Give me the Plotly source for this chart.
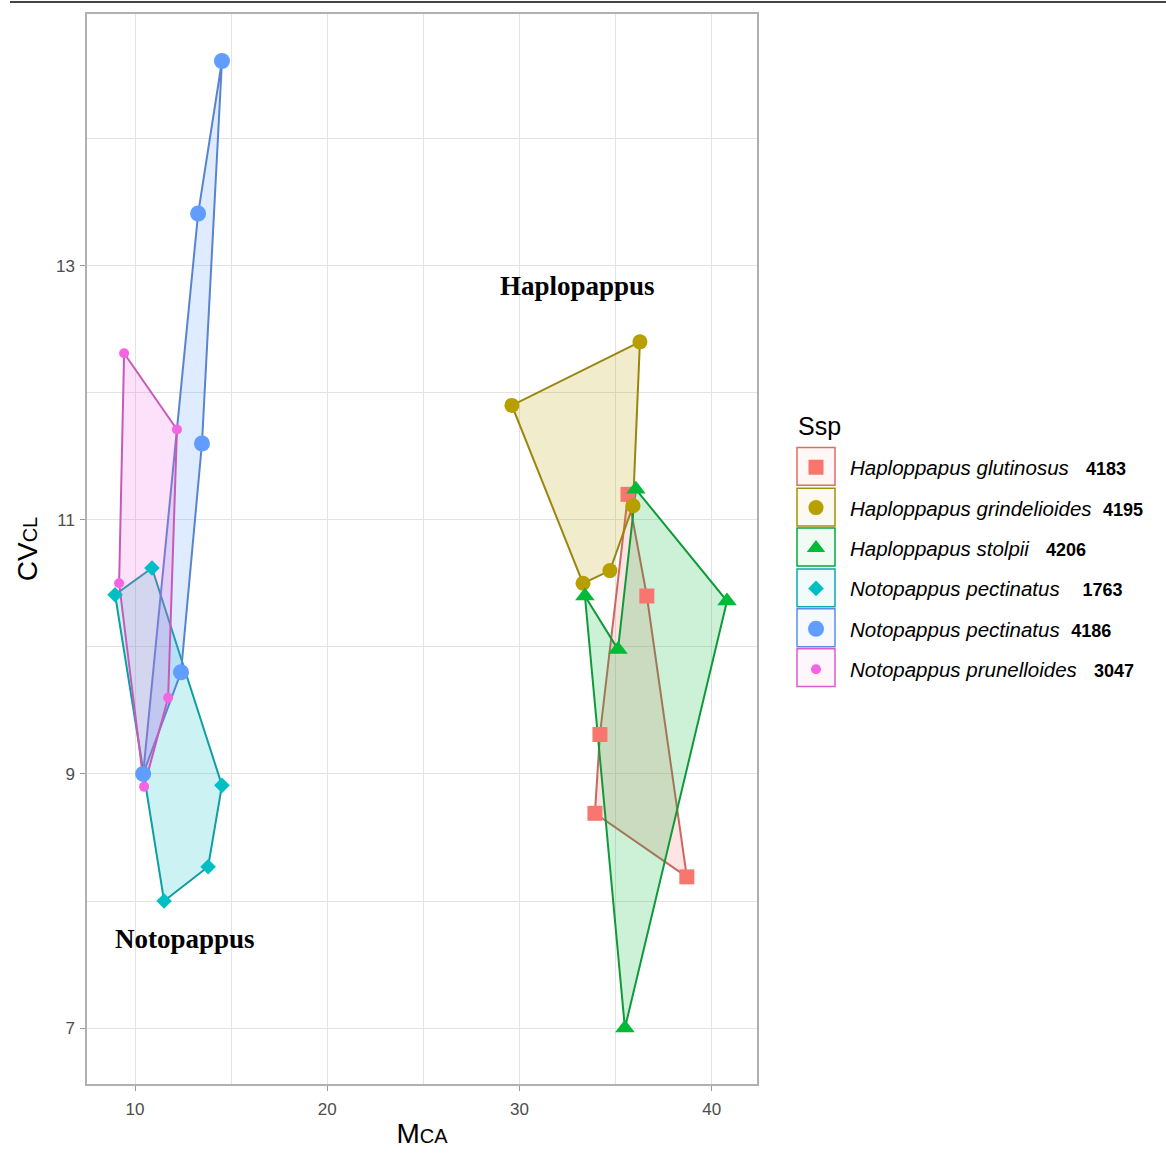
import plotly.graph_objects as go

# ---- data ----
species = [
    "Haploppapus glutinosus", "Haploppapus grindelioides", "Haploppapus stolpii",
    "Notopappus pectinatus", "Notopappus pectinatus", "Notopappus prunelloides",
]
codes = ["4183", "4195", "4206", "1763", "4186", "3047"]
gaps = ["   ", "  ", "   ", "    ", "  ", "   "]

glut_x = [35.64, 36.62, 38.70, 33.92, 34.18]
glut_y = [11.20, 10.40, 8.19, 8.69, 9.31]

grin_x = [36.26, 35.90, 34.70, 33.30, 29.60]
grin_y = [12.40, 11.11, 10.60, 10.50, 11.90]

stol_x = [36.05, 40.79, 35.48, 33.40, 35.12]
stol_y = [11.24, 10.36, 7.00, 10.40, 9.98]

pect1763_x = [10.88, 14.52, 13.80, 11.51, 8.96]
pect1763_y = [10.62, 8.91, 8.27, 8.00, 10.41]

pect4186_x = [14.52, 13.48, 12.39, 10.42, 13.28]
pect4186_y = [14.61, 11.60, 9.80, 9.00, 13.41]

prun_x = [9.43, 12.18, 11.72, 10.47, 9.17]
prun_y = [12.31, 11.71, 9.60, 8.90, 10.50]

xs = [glut_x, grin_x, stol_x, pect1763_x, pect4186_x, prun_x]
ys = [glut_y, grin_y, stol_y, pect1763_y, pect4186_y, prun_y]

colors = ["#F8766D", "#B79F00", "#00BA38", "#00BFC4", "#619CFF", "#F564E3"]
symbols = ["square", "circle", "triangle-up", "diamond", "circle", "circle"]
sizes = [15, 15, 17, 12, 16, 10]

x_ticks = [10, 20, 30, 40]
y_ticks = [7, 9, 11, 13]
labels = [("Haplopappus", 33.0, 12.84), ("Notopappus", 12.6, 7.70)]


def rgba(hexc, a):
    h = hexc.lstrip("#")
    return "rgba(%d,%d,%d,%s)" % (int(h[0:2], 16), int(h[2:4], 16), int(h[4:6], 16), a)


def darker(hexc, k=0.25, g=60):
    h = hexc.lstrip("#")
    c = [int(h[j:j + 2], 16) for j in (0, 2, 4)]
    c = [round((1 - k) * v + k * g) for v in c]
    return "rgb(%d,%d,%d)" % tuple(c)


fig = go.Figure()

# polygons (hulls)
for i in range(6):
    fig.add_trace(go.Scatter(
        x=xs[i] + [xs[i][0]], y=ys[i] + [ys[i][0]],
        mode="lines", fill="toself",
        fillcolor=rgba(colors[i], 0.2),
        line=dict(color=darker(colors[i]), width=2),
        showlegend=False, hoverinfo="skip",
    ))

# points
for i in range(6):
    name = ("<i>%s</i>%s<span style='font-size:18px'><b>%s</b></span>"
            % (species[i], gaps[i], codes[i]))
    fig.add_trace(go.Scatter(
        x=xs[i], y=ys[i], mode="markers", name=name,
        legendgroup="g%d" % i,
        marker=dict(color=colors[i], symbol=symbols[i], size=sizes[i]),
    ))

for txt, lx, ly in labels:
    fig.add_annotation(x=lx, y=ly, text="<b>%s</b>" % txt, showarrow=False,
                       font=dict(family="Liberation Serif", size=27, color="black"))

W, H = 1166, 1156
L, R, T, B = 87, 757, 14, 1088
pw, ph = R - L, B - T

# legend title
fig.add_annotation(xref="paper", yref="paper", x=(796 - L) / pw, y=(B - 428) / ph,
                   xanchor="left", yanchor="middle", text="Ssp", showarrow=False,
                   font=dict(family="Liberation Sans", size=25, color="black"))

# legend key boxes
key_centers = [468, 509, 549, 590, 630, 670]
for i, cy in enumerate(key_centers):
    x0 = (797 - L) / pw
    x1 = (835 - L) / pw
    y0 = (B - (cy + 19)) / ph
    y1 = (B - (cy - 19)) / ph
    fig.add_shape(type="rect", xref="paper", yref="paper", x0=x0, x1=x1, y0=y0, y1=y1,
                  line=dict(color=darker(colors[i], 0.15), width=1.5),
                  fillcolor=rgba(colors[i], 0.06), layer="below")

# top dark line (artifact in reference)
fig.add_shape(type="line", xref="paper", yref="paper",
              x0=(10 - L) / pw, x1=(W - L) / pw,
              y0=(B - 2) / ph, y1=(B - 2) / ph,
              line=dict(color="#444444", width=2))

grid = "#e3e3e3"
fig.update_layout(
    width=W, height=H,
    margin=dict(l=L, r=W - R, t=T, b=H - B),
    plot_bgcolor="white", paper_bgcolor="white",
    font=dict(family="Liberation Sans", color="#4d4d4d"),
    showlegend=True,
    legend=dict(
        x=(782 - L) / pw, xanchor="left", y=(B - 449) / ph, yanchor="top",
        font=dict(size=20.5, color="black"),
        tracegroupgap=10.75, traceorder="grouped",
        itemsizing="trace", itemwidth=58,
        bgcolor="rgba(0,0,0,0)",
    ),
    xaxis=dict(
        range=[7.5, 42.35], tickvals=x_ticks, ticks="outside", ticklen=5,
        tickcolor="#999999", tickfont=dict(size=17, color="#4d4d4d"),
        ticklabelstandoff=4,
        showgrid=True, gridcolor=grid, gridwidth=1.2,
        minor=dict(tickvals=[15, 25, 35], showgrid=True, gridcolor=grid, gridwidth=1.2),
        showline=True, mirror=True, linecolor="#b0b0b0", linewidth=1.5,
        zeroline=False,
        title=dict(text="M<span style='font-size:20px'>CA</span>",
                   font=dict(size=28, color="black"), standoff=5),
    ),
    yaxis=dict(
        range=[6.56, 14.98], tickvals=y_ticks, ticks="outside", ticklen=5,
        tickcolor="#999999", tickfont=dict(size=17, color="#4d4d4d"),
        ticklabelstandoff=2,
        showgrid=True, gridcolor=grid, gridwidth=1.2,
        minor=dict(tickvals=[8, 10, 12, 14], showgrid=True, gridcolor=grid, gridwidth=1.2),
        showline=True, mirror=True, linecolor="#b0b0b0", linewidth=1.5,
        zeroline=False,
        title=dict(text="CV<span style='font-size:20px'>CL</span>",
                   font=dict(size=28, color="black"), standoff=10),
    ),
)

fig.write_html("out.html", config={"displayModeBar": False},
               post_script="document.body.style.margin='0';")
